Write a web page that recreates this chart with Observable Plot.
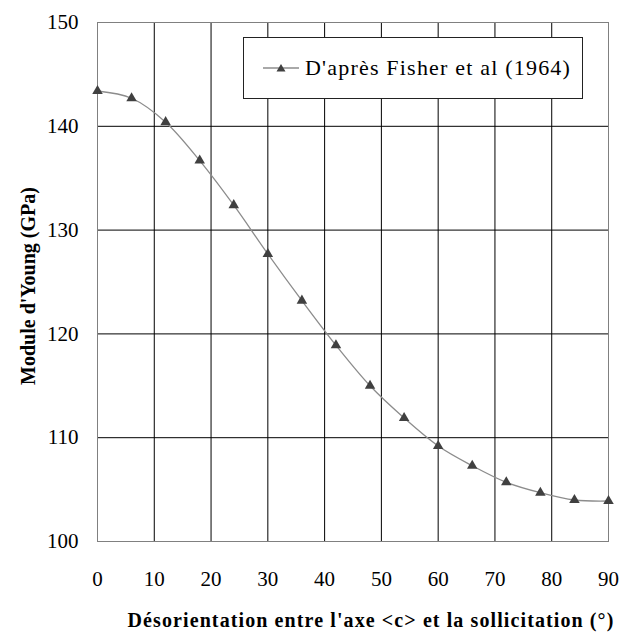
<!DOCTYPE html>
<html>
<head>
<meta charset="utf-8">
<script src="https://cdn.jsdelivr.net/npm/d3@7"></script>
<script src="https://cdn.jsdelivr.net/npm/@observablehq/plot@0.6"></script>
<style>
  body { margin: 0; background: #fff; }
  #wrap { position: relative; width: 620px; height: 633px; }
  #wrap, #wrap svg, #wrap svg text { font-family: "Liberation Serif", "Times New Roman", Times, serif !important; }
  #legend { position: absolute; left: 243px; top: 37px; width: 340px; height: 62px; box-sizing: border-box;
            border: 1px solid #222; background: #fff; display: flex; align-items: center; padding-left: 19px;
            font-size: 22px; letter-spacing: 1.2px; color: #000; font-family: "Liberation Serif", "Times New Roman", Times, serif; }
  #legend svg { margin-right: 6px; }
</style>
</head>
<body>
<div id="wrap"></div>
<script>
const angles = [0, 6, 12, 18, 24, 30, 36, 42, 48, 54, 60, 66, 72, 78, 84, 90];
const modulus = [143.4, 142.7, 140.4, 136.7, 132.4, 127.7, 123.2, 118.9, 115.0, 111.9, 109.2, 107.3, 105.7, 104.7, 104.0, 103.9];
const xTicks = [0, 10, 20, 30, 40, 50, 60, 70, 80, 90];
const yTicks = [100, 110, 120, 130, 140, 150];
const xTitle = "Désorientation entre l'axe <c> et la sollicitation (°)";
const yTitle = "Module d'Young (GPa)";
const seriesName = "D'après Fisher et al (1964)";

const data = angles.map((a, i) => ({angle: a, E: modulus[i]}));

const chart = Plot.plot({
  width: 620,
  height: 633,
  marginLeft: 97,
  marginRight: 12,
  marginTop: 22,
  marginBottom: 92,
  style: {fontSize: "21px", color: "#000", background: "#fff"},
  x: {domain: [0, 90]},
  y: {domain: [100, 150]},
  marks: [
    Plot.gridX(xTicks, {stroke: "#000", strokeOpacity: 1, strokeWidth: 1}),
    Plot.gridY(yTicks, {stroke: "#000", strokeOpacity: 1, strokeWidth: 1}),
    Plot.frame({stroke: "#808080"}),
    Plot.axisX(xTicks, {tickSize: 0, tickPadding: 30, label: null, fontSize: 21}),
    Plot.axisY(yTicks, {tickSize: 0, tickPadding: 19, label: null, fontSize: 21}),
    Plot.line(data, {x: "angle", y: "E", curve: "catmull-rom", stroke: "#8c8c8c", strokeWidth: 1.3}),
    Plot.dot(data, {x: "angle", y: "E", symbol: "triangle", fill: "#404040", stroke: "none", r: 3.9}),
    Plot.text([xTitle], {frameAnchor: "bottom", dx: 18, dy: 79, textAnchor: "middle", lineAnchor: "middle", fontWeight: "bold", fontSize: 20, fill: "#000"}),
    Plot.text([yTitle], {frameAnchor: "left", dx: -69, dy: 4, textAnchor: "middle", lineAnchor: "middle", rotate: -90, fontWeight: "bold", fontSize: 20, fill: "#000"})
  ]
});

// widen the bold x title spacing like the reference's rendering
d3.select(chart).selectAll("text")
  .filter(function() { return this.textContent === xTitle; })
  .style("letter-spacing", "1.1px");

const wrap = document.getElementById("wrap");
wrap.appendChild(chart);

const legend = document.createElement("div");
legend.id = "legend";
legend.innerHTML = `<svg width="36" height="12" viewBox="0 0 36 12"><line x1="0" y1="6" x2="36" y2="6" stroke="#555" stroke-width="1.2"/><path d="M18,2 L22.5,9.5 L13.5,9.5 Z" fill="#404040"/></svg><span></span>`;
legend.querySelector("span").textContent = seriesName;
wrap.appendChild(legend);
</script>
</body>
</html>
